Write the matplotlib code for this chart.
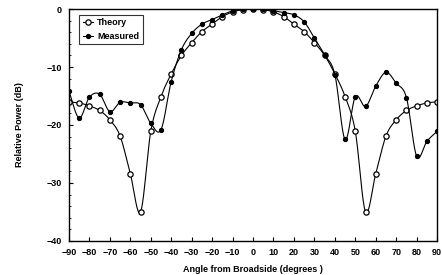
import numpy as np
import matplotlib
matplotlib.use("Agg")
import matplotlib.pyplot as plt

angles = [-90, -85, -80, -75, -70, -65, -60, -55, -50, -45, -40, -35, -30, -25, -20, -15, -10, -5,
          0, 5, 10, 15, 20, 25, 30, 35, 40, 45, 50, 55, 60, 65, 70, 75, 80, 85, 90]

theory = [-16.0, -16.2, -16.7, -17.5, -19.1, -21.9, -28.4, -35.0, -21.1, -15.1, -11.2, -8.0, -5.8,
          -3.9, -2.6, -1.3, -0.5, -0.1, 0.0, -0.1, -0.5, -1.3, -2.6, -3.9, -5.8, -8.0, -11.2,
          -15.1, -21.1, -35.0, -28.4, -21.9, -19.1, -17.5, -16.7, -16.2, -16.0]

measured = [-14.2, -18.8, -15.2, -14.7, -17.7, -16.1, -16.2, -16.5, -19.7, -20.8, -12.5, -7.0, -4.2,
            -2.6, -1.8, -1.0, -0.3, 0.0, 0.0, 0.0, -0.3, -0.6, -1.0, -2.2, -5.0, -7.9, -11.3,
            -22.5, -15.1, -16.8, -13.3, -10.9, -12.8, -15.3, -25.4, -22.8, -21.1]

x_ticks = list(range(-90, 91, 10))
y_ticks = [0, -10, -20, -30, -40]


def smooth(x, y, n=20):
    """Catmull-Rom display smoothing through the data points."""
    x = np.asarray(x, float)
    y = np.asarray(y, float)
    px = np.concatenate([[2 * x[0] - x[1]], x, [2 * x[-1] - x[-2]]])
    py = np.concatenate([[2 * y[0] - y[1]], y, [2 * y[-1] - y[-2]]])
    xs, ys = [], []
    t = np.linspace(0, 1, n, endpoint=False)
    for i in range(1, len(px) - 2):
        for arr, out in ((px, xs), (py, ys)):
            p0, p1, p2, p3 = arr[i - 1], arr[i], arr[i + 1], arr[i + 2]
            out.extend(0.5 * ((2 * p1) + (-p0 + p2) * t + (2 * p0 - 5 * p1 + 4 * p2 - p3) * t ** 2
                              + (-p0 + 3 * p1 - 3 * p2 + p3) * t ** 3))
    xs.append(x[-1])
    ys.append(y[-1])
    return np.array(xs), np.array(ys)


plt.rcParams['font.family'] = ['Liberation Sans', 'DejaVu Sans']
plt.rcParams['font.weight'] = 'bold'

fig = plt.figure(figsize=(4.42, 2.75), dpi=100)
ax = fig.add_axes([0.156, 0.124, 0.833, 0.843])

sx, sy = smooth(angles, theory)
ax.plot(sx, sy, color='black', lw=0.8)
ax.plot(angles, theory, linestyle='none', marker='o', ms=3.8, mfc='white', mec='black', mew=0.9)
ax.plot([], [], color='black', lw=0.8, marker='o', ms=3.8, mfc='white', mec='black', mew=0.9,
        label='Theory')

mx, my = smooth(angles, measured)
ax.plot(mx, my, color='black', lw=0.8)
ax.plot(angles, measured, linestyle='none', marker='o', ms=2.8, mfc='black', mec='black')
ax.plot([], [], color='black', lw=0.8, marker='o', ms=2.8, mfc='black', mec='black',
        label='Measured')

ax.set_xlim(-90, 90)
ax.set_ylim(-40, 0)
ax.set_xticks(x_ticks)
ax.set_yticks(y_ticks)
ax.set_yticks(np.arange(-40, 1, 2), minor=True)
ax.tick_params(axis='both', direction='in', labelsize=6.5, length=3, width=0.8, pad=5)
ax.tick_params(axis='y', which='minor', direction='in', length=1.5, width=0.6)
ax.tick_params(top=False, right=False)
for s in ax.spines.values():
    s.set_linewidth(1.0)

ax.set_xlabel('Angle from Broadside (degrees )', fontsize=6.5, fontweight='bold', labelpad=6)
ax.set_ylabel('Relative Power (dB)', fontsize=6.5, fontweight='bold', labelpad=16)

leg = ax.legend(loc='upper left', bbox_to_anchor=(0.015, 0.995), fontsize=6.5, frameon=True,
                fancybox=False, edgecolor='black', handlelength=1.2, handletextpad=0.4,
                borderpad=0.4, labelspacing=0.5)
leg.get_frame().set_linewidth(0.8)

fig.savefig('out.png', dpi=100)
